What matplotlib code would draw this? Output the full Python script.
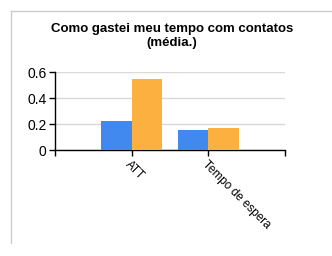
import matplotlib.pyplot as plt
import numpy as np
from matplotlib.lines import Line2D

categories = ["ATT", "Tempo de espera"]
blue_vals = [0.225, 0.155]
orange_vals = [0.55, 0.172]
yticks = [0, 0.2, 0.4, 0.6]
ytick_labels = ["0", "0.2", "0.4", "0.6"]

plt.rcParams['font.family'] = ['Liberation Sans', 'DejaVu Sans']

fig = plt.figure(figsize=(3.32, 2.56), dpi=100)
ax = fig.add_axes([55/332, 1-150/256, 230/332, 78/256])

x = np.arange(1, len(categories)+1)
w = 0.4
ax.bar(x - w/2, blue_vals, w, color='#4189ee', zorder=3)
ax.bar(x + w/2, orange_vals, w, color='#fbb040', zorder=3)

ax.set_xlim(0, 3)
ax.set_ylim(0, 0.6)
ax.set_yticks(yticks)
ax.set_yticklabels(ytick_labels, fontsize=10)
ax.set_xticks([0, 1, 2, 3])
ax.set_xticklabels([""] + categories + [""], fontsize=8.5, rotation=-45,
                   ha='left', va='top', rotation_mode='anchor')
ax.tick_params(axis='both', length=4, width=1, color='black', pad=2)
ax.yaxis.grid(True, color='#d9d9d9', linewidth=1, zorder=0)
for s in ['top', 'right']:
    ax.spines[s].set_visible(False)
for s in ['left', 'bottom']:
    ax.spines[s].set_linewidth(1)

fig.text(172/332, 1-36/256, "Como gastei meu tempo com contatos\n(média.)",
         ha='center', va='center', fontsize=9.5, fontweight='bold', linespacing=1.3)

# outer frame lines
fig.add_artist(Line2D([11/332, 11/332], [1-243/256, 1-11/256], color='#cccccc', lw=1))
fig.add_artist(Line2D([11/332, 1], [1-11/256, 1-11/256], color='#cccccc', lw=1))

fig.savefig("out.png", dpi=100)
